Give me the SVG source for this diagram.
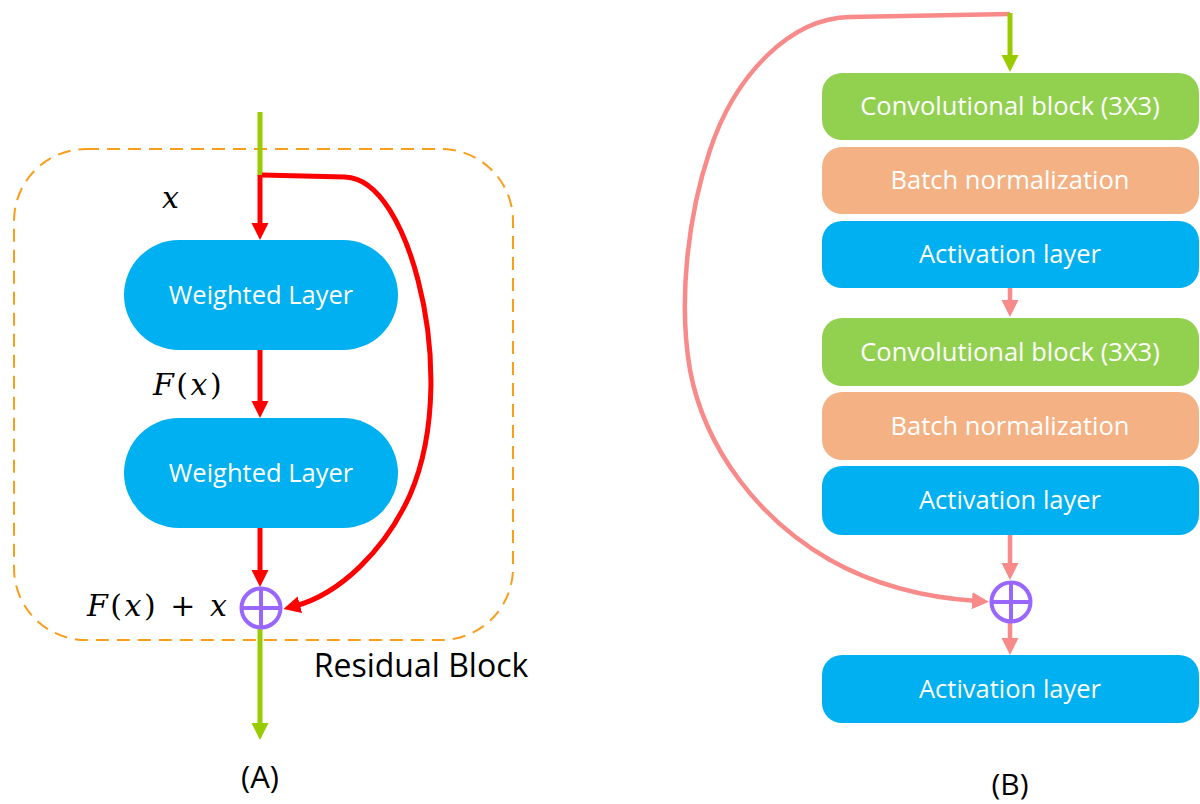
<svg xmlns="http://www.w3.org/2000/svg" width="1200" height="804" viewBox="0 0 1200 804">
  <style>
    .lbl { font-family: "Open Sans", "Noto Sans", sans-serif; fill: #ffffff; font-size: 25.5px; text-anchor: middle; }
    .cap { font-family: "Open Sans", "Noto Sans", sans-serif; fill: #000000; text-anchor: middle; }
    .math { font-family: "DejaVu Serif", "Liberation Serif", serif; fill: #000000; font-size: 30px; letter-spacing: 2.5px; }
    .it { font-style: italic; }
    .blue { fill: #00B0F0; }
    .green { fill: #92D050; }
    .orange { fill: #F4B183; }
    .sum { fill: none; stroke: #9966FF; stroke-width: 4; }
    .red { fill: none; stroke: #FF0000; stroke-width: 5; }
    .lime { fill: none; stroke: #99CC00; stroke-width: 5; }
    .pink { fill: none; stroke: #F88A8A; stroke-width: 4.5; }
  </style>
  <defs>
    <marker id="hRed" markerUnits="userSpaceOnUse" markerWidth="18" markerHeight="18" refX="5" refY="8.5" orient="auto">
      <path d="M0,0 L17,8.5 L0,17 z" fill="#FF0000"/>
    </marker>
    <marker id="hLime" markerUnits="userSpaceOnUse" markerWidth="18" markerHeight="18" refX="5" refY="8.5" orient="auto">
      <path d="M0,0 L17,8.5 L0,17 z" fill="#99CC00"/>
    </marker>
    <marker id="hPink" markerUnits="userSpaceOnUse" markerWidth="18" markerHeight="18" refX="5" refY="8.5" orient="auto">
      <path d="M0,0 L17,8.5 L0,17 z" fill="#F88A8A"/>
    </marker>
  </defs>

  <rect width="1200" height="804" fill="#ffffff"/>

  <!-- (A) residual block frame -->
  <g id="residual-frame">
    <rect x="14" y="149" width="499" height="491" rx="72" ry="72" fill="none" stroke="#F99E1B" stroke-width="2" stroke-dasharray="13 8"/>
    <text class="cap" x="421" y="677" font-size="32">Residual Block</text>
  </g>

  <!-- connectors -->
  <g id="connectors">
    <!-- (A) -->
    <path class="lime" d="M260,112 V176"/>
    <path class="red" d="M260,175 V228" marker-end="url(#hRed)"/>
    <path class="red" d="M260,350 V406" marker-end="url(#hRed)"/>
    <path class="red" d="M260,528 V575" marker-end="url(#hRed)"/>
    <path class="red" d="M262,175 L345,177 C380,178 405,230 418,280 C435,345 438,430 410,495 C385,550 340,594 295,606" marker-end="url(#hRed)"/>
    <path class="lime" d="M260,629 V728" marker-end="url(#hLime)"/>
    <!-- (B) -->
    <path class="pink" d="M1010,14 L850,17 C790,18 735,75 710,150 C688,215 678,300 690,370 C705,450 760,520 830,560 C880,588 930,598 977,601" marker-end="url(#hPink)"/>
    <path class="lime" d="M1010,13 V60" marker-end="url(#hLime)"/>
    <path class="pink" d="M1010,288 V305" marker-end="url(#hPink)"/>
    <path class="pink" d="M1010,535 V568" marker-end="url(#hPink)"/>
    <path class="pink" d="M1010,623 V643" marker-end="url(#hPink)"/>
  </g>

  <!-- (A) nodes -->
  <g id="weighted-1">
    <rect class="blue" x="124" y="240" width="274" height="110" rx="55" ry="55"/>
    <text class="lbl" x="261" y="304">Weighted Layer</text>
  </g>
  <g id="weighted-2">
    <rect class="blue" x="124" y="418" width="274" height="110" rx="55" ry="55"/>
    <text class="lbl" x="261" y="482">Weighted Layer</text>
  </g>
  <g id="sum-a">
    <circle class="sum" cx="261" cy="608" r="19.5"/>
    <path class="sum" d="M261,588.5 V627.5 M241.5,608 H280.5"/>
  </g>
  <g id="math-labels">
    <text class="math it" x="162" y="208">x</text>
    <text class="math" x="153" y="395"><tspan class="it">F</tspan>(<tspan class="it">x</tspan>)</text>
    <text class="math" x="87" y="616"><tspan class="it">F</tspan>(<tspan class="it">x</tspan>) + <tspan class="it">x</tspan></text>
  </g>
  <text class="cap" x="260" y="788" font-size="31">(A)</text>

  <!-- (B) nodes -->
  <g id="conv-1">
    <rect class="green" x="822" y="73" width="377" height="67" rx="20" ry="20"/>
    <text class="lbl" x="1010" y="115">Convolutional block (3X3)</text>
  </g>
  <g id="bn-1">
    <rect class="orange" x="822" y="147" width="377" height="67" rx="20" ry="20"/>
    <text class="lbl" x="1010" y="189">Batch normalization</text>
  </g>
  <g id="act-1">
    <rect class="blue" x="822" y="221" width="377" height="67" rx="20" ry="20"/>
    <text class="lbl" x="1010" y="263">Activation layer</text>
  </g>
  <g id="conv-2">
    <rect class="green" x="822" y="318" width="377" height="68" rx="20" ry="20"/>
    <text class="lbl" x="1010" y="361">Convolutional block (3X3)</text>
  </g>
  <g id="bn-2">
    <rect class="orange" x="822" y="392" width="377" height="68" rx="20" ry="20"/>
    <text class="lbl" x="1010" y="435">Batch normalization</text>
  </g>
  <g id="act-2">
    <rect class="blue" x="822" y="466" width="377" height="69" rx="20" ry="20"/>
    <text class="lbl" x="1010" y="509">Activation layer</text>
  </g>
  <g id="sum-b">
    <circle class="sum" cx="1011" cy="602" r="19.5"/>
    <path class="sum" d="M1011,582.5 V621.5 M991.5,602 H1030.5"/>
  </g>
  <g id="act-3">
    <rect class="blue" x="822" y="655" width="377" height="68" rx="20" ry="20"/>
    <text class="lbl" x="1010" y="698">Activation layer</text>
  </g>
  <text class="cap" x="1010" y="795" font-size="30">(B)</text>
</svg>
